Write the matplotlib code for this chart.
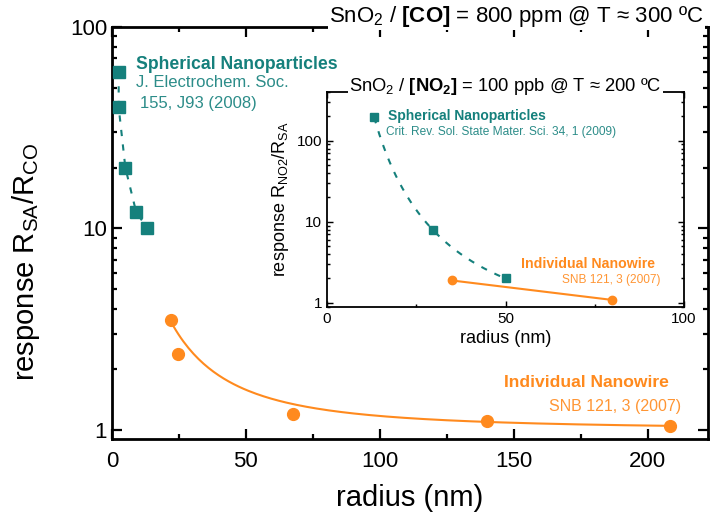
import numpy as np
import matplotlib
matplotlib.use('Agg')
import matplotlib.pyplot as plt

plt.rcParams['font.family'] = ['Liberation Sans', 'DejaVu Sans']
plt.rcParams['mathtext.fontset'] = 'custom'
plt.rcParams['mathtext.rm'] = 'Liberation Sans'
plt.rcParams['mathtext.bf'] = 'Liberation Sans:bold'
plt.rcParams['mathtext.default'] = 'regular'

TEAL = '#15807c'
ORANGE = '#ff8a1e'

# main chart: CO at 300 C
sphere_r = [2.5, 2.5, 5, 9, 13.2]
sphere_resp = [60, 40, 20, 12.1, 10]
wire_r = [22, 24.6, 67.5, 140, 208.3]
wire_resp = [3.5, 2.38, 1.2, 1.11, 1.05]

# inset: NO2 at 200 C
in_sphere_r = [13.2, 29.7, 50]
in_sphere_resp = [195, 7.9, 2.0]
in_wire_r = [35, 79.7]
in_wire_resp = [1.89, 1.09]

xticks_main = [0, 50, 100, 150, 200]
xticks_inset = [0, 50, 100]


def style_axes(ax, lw, size, minor_x):
    ax.set_yscale('log')
    for s in ax.spines.values():
        s.set_linewidth(lw)
    ax.tick_params(which='both', direction='in', top=True, right=True,
                   width=lw * 0.8)
    ax.tick_params(which='major', length=size)
    ax.tick_params(which='minor', length=size * 0.5)
    ax.xaxis.set_minor_locator(matplotlib.ticker.MultipleLocator(minor_x))
    ax.yaxis.set_major_formatter(matplotlib.ticker.FuncFormatter(lambda v, p: '%g' % v))
    ax.yaxis.set_minor_formatter(matplotlib.ticker.NullFormatter())


fig = plt.figure(figsize=(7.11, 5.15), dpi=100)
ax = fig.add_axes([0.1575, 0.1476, 0.838, 0.8])
style_axes(ax, 2, 7, 25)
ax.tick_params(which='major', labelsize=16)
ax.tick_params(axis='x', pad=9)
ax.set_xlim(0, 222.4)
ax.set_ylim(0.902, 100)
ax.set_xticks(xticks_main)

ax.plot(sphere_r, sphere_resp, ls=(0, (3, 4)), color=TEAL, lw=1.5,
        marker='s', ms=8.5, mec=TEAL, mfc=TEAL, clip_on=False, zorder=3)

# power-law fit of (R - 1) vs r for the nanowire, anchored on the end points
c = np.polyfit(np.log10(wire_r), np.log10(np.array(wire_resp) - 1), 1,
               w=[4, 0.5, 1, 1, 2])
xf = np.linspace(wire_r[0], wire_r[-1], 200)
ax.plot(xf, 1 + 10 ** np.polyval(c, np.log10(xf)), color=ORANGE, lw=1.5)
ax.plot(wire_r, wire_resp, 'o', color=ORANGE, ms=8.5, zorder=3)

ax.set_xlabel('radius (nm)', fontsize=21, labelpad=8)
ax.set_ylabel('response R$_{SA}$/R$_{CO}$', fontsize=21, labelpad=12)
ax.yaxis.set_label_coords(-0.118, 0.43)

ax.text(0.04, 0.91, 'Spherical Nanoparticles', transform=ax.transAxes,
        color=TEAL, fontsize=12.7, fontweight='bold', va='center')
ax.text(0.04, 0.865, 'J. Electrochem. Soc.', transform=ax.transAxes,
        color=TEAL, fontsize=12, va='center', alpha=0.9)
ax.text(0.047, 0.815, '155, J93 (2008)', transform=ax.transAxes,
        color=TEAL, fontsize=12, va='center', alpha=0.9)
ax.text(0.934, 0.137, 'Individual Nanowire', transform=ax.transAxes,
        color=ORANGE, fontsize=12.6, fontweight='bold', va='center', ha='right')
ax.text(0.955, 0.08, 'SNB 121, 3 (2007)', transform=ax.transAxes,
        color=ORANGE, fontsize=11.5, va='center', ha='right', alpha=0.9)

fig.text(0.463, 0.968, r'SnO$_2$ / $\mathbf{[CO]}$ = 800 ppm @ T ≈ 300 ºC',
         fontsize=16, va='center', ha='left',
         bbox=dict(fc='white', ec='none', pad=1))

# inset
ins = fig.add_axes([0.46, 0.4039, 0.502, 0.4175])
style_axes(ins, 1.3, 4, 25)
ins.tick_params(which='major', labelsize=11)
ins.set_xlim(0, 100)
ins.set_ylim(0.89, 400)
ins.set_xticks(xticks_inset)

cs = np.polyfit(np.log10(in_sphere_r), np.log10(in_sphere_resp), 2)
xs = np.linspace(in_sphere_r[0], in_sphere_r[-1], 200)
ins.plot(xs, 10 ** np.polyval(cs, np.log10(xs)), ls=(0, (3, 4)), color=TEAL, lw=1.5)
ins.plot(in_sphere_r, in_sphere_resp, 's', color=TEAL, ms=6, zorder=3)
ins.plot(in_wire_r, in_wire_resp, '-o', color=ORANGE, lw=1.5, ms=6, zorder=3)

ins.set_xlabel('radius (nm)', fontsize=13, labelpad=3)
ins.set_ylabel('response R$_{NO2}$/R$_{SA}$', fontsize=13, labelpad=4)
ins.set_title(r'SnO$_2$ / $\mathbf{[NO_2]}$ = 100 ppb @ T ≈ 200 ºC',
              fontsize=13.2, y=1.025, va='center', pad=0,
              bbox=dict(fc='white', ec='none', pad=1))

ins.text(0.17, 0.89, 'Spherical Nanoparticles', transform=ins.transAxes,
         color=TEAL, fontsize=10, fontweight='bold', va='center')
ins.text(0.165, 0.815, 'Crit. Rev. Sol. State Mater. Sci. 34, 1 (2009)',
         transform=ins.transAxes, color=TEAL, fontsize=8.6, va='center', alpha=0.9)
ins.text(0.92, 0.2, 'Individual Nanowire', transform=ins.transAxes,
         color=ORANGE, fontsize=10.2, fontweight='bold', va='center', ha='right')
ins.text(0.935, 0.125, 'SNB 121, 3 (2007)', transform=ins.transAxes,
         color=ORANGE, fontsize=8.6, va='center', ha='right', alpha=0.9)

fig.savefig('out.png', dpi=100)
